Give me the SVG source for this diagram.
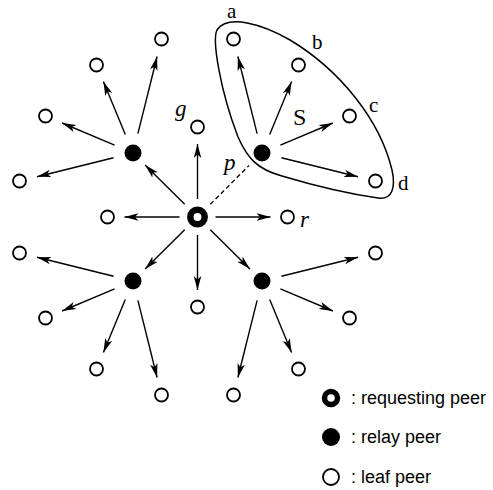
<svg xmlns="http://www.w3.org/2000/svg" width="493" height="490" viewBox="0 0 493 490">
<style>
.leaf{fill:#fff;stroke:#000;stroke-width:1.8}
.relay{fill:#000}
.req{fill:#fff;stroke:#000;stroke-width:6.5}
.ar{stroke:#000;stroke-width:1.4;fill:none;marker-end:url(#ah)}
.dash{stroke:#000;stroke-width:1.3;fill:none;stroke-dasharray:4.5 3}
.lbl{font-family:"Liberation Serif",serif;font-size:21px;fill:#000}
.it{font-style:italic;font-size:23px}
.leg{font-family:"Liberation Sans",Arial,sans-serif;font-size:18px;fill:#000}
</style>
<defs>
<marker id="ah" markerUnits="userSpaceOnUse" markerWidth="18" markerHeight="10" refX="14" refY="4" orient="auto" viewBox="0 0 18 10">
<path d="M14,4 L0,0.2 L3.5,4 L0,7.8 Z" fill="#000"/>
</marker>
</defs>
<g id="connectors">
<line class="ar" x1="184.7" y1="204.3" x2="145.1" y2="165.0"/>
<line class="ar" x1="184.7" y1="229.7" x2="145.1" y2="269.0"/>
<line class="ar" x1="210.3" y1="229.7" x2="249.9" y2="269.0"/>
<line class="dash" x1="210.3" y1="204.3" x2="249" y2="165.5"/>
<line class="ar" x1="197.5" y1="199" x2="197.5" y2="144"/>
<line class="ar" x1="197.5" y1="235" x2="197.5" y2="290"/>
<line class="ar" x1="179.5" y1="217" x2="124.5" y2="217"/>
<line class="ar" x1="215.5" y1="217" x2="270.5" y2="217"/>
<line class="ar" x1="137.9" y1="133.6" x2="157.1" y2="56.5"/>
<line class="ar" x1="125.3" y1="134.5" x2="103.4" y2="81.6"/>
<line class="ar" x1="114.6" y1="145.2" x2="62.1" y2="123.0"/>
<line class="ar" x1="113.6" y1="157.8" x2="37.0" y2="176.7"/>
<line class="ar" x1="257.1" y1="133.6" x2="237.9" y2="56.5"/>
<line class="ar" x1="269.7" y1="134.5" x2="291.6" y2="81.6"/>
<line class="ar" x1="280.4" y1="145.2" x2="332.9" y2="123.0"/>
<line class="ar" x1="281.4" y1="157.8" x2="358.0" y2="176.7"/>
<line class="ar" x1="137.9" y1="300.4" x2="157.1" y2="377.5"/>
<line class="ar" x1="125.3" y1="299.5" x2="103.4" y2="352.4"/>
<line class="ar" x1="114.6" y1="288.8" x2="62.1" y2="311.0"/>
<line class="ar" x1="113.6" y1="276.2" x2="37.0" y2="257.3"/>
<line class="ar" x1="257.1" y1="300.4" x2="237.9" y2="377.5"/>
<line class="ar" x1="269.7" y1="299.5" x2="291.6" y2="352.4"/>
<line class="ar" x1="280.4" y1="288.8" x2="332.9" y2="311.0"/>
<line class="ar" x1="281.4" y1="276.2" x2="358.0" y2="257.3"/>
</g>
<g id="group-S">
<path d="M217,30 C212,40 220,90 238,137 C247,157 256,169 282,176 C312,185 350,194 378,198 C392,200 396,188 392,170 C380,120 340,70 290,40 C262,24 228,14 217,30 Z" fill="none" stroke="#000" stroke-width="1.5"/>
<text class="lbl" x="293" y="125" style="font-size:24px">S</text>
</g>
<g id="requesting"><circle class="req" cx="197.5" cy="217" r="7.2"/><text class="lbl it" x="224" y="170">p</text></g>
<g id="relay-ul"><circle class="relay" cx="133" cy="153" r="8.5"/></g>
<g id="relay-ur"><circle class="relay" cx="262" cy="153" r="8.5"/></g>
<g id="relay-ll"><circle class="relay" cx="133" cy="281" r="8.5"/></g>
<g id="relay-lr"><circle class="relay" cx="262" cy="281" r="8.5"/></g>
<g id="leaf-g"><circle class="leaf" cx="197.5" cy="127" r="6.5"/><text class="lbl it" x="175" y="116">g</text></g>
<g id="leaf-left"><circle class="leaf" cx="107.5" cy="217" r="6.5"/></g>
<g id="leaf-r"><circle class="leaf" cx="287.5" cy="217" r="6.5"/><text class="lbl it" x="300" y="227">r</text></g>
<g id="leaf-bottom"><circle class="leaf" cx="197.5" cy="307" r="6.5"/></g>
<g id="leaf-ul1"><circle class="leaf" cx="161.5" cy="39" r="6.5"/></g>
<g id="leaf-ul2"><circle class="leaf" cx="96.5" cy="65" r="6.5"/></g>
<g id="leaf-ul3"><circle class="leaf" cx="45.5" cy="116" r="6.5"/></g>
<g id="leaf-ul4"><circle class="leaf" cx="19.5" cy="181" r="6.5"/></g>
<g id="leaf-a"><circle class="leaf" cx="233.5" cy="39" r="6.5"/><text class="lbl" x="227" y="18">a</text></g>
<g id="leaf-b"><circle class="leaf" cx="298.5" cy="65" r="6.5"/><text class="lbl" x="312" y="49">b</text></g>
<g id="leaf-c"><circle class="leaf" cx="349.5" cy="116" r="6.5"/><text class="lbl" x="369" y="112">c</text></g>
<g id="leaf-d"><circle class="leaf" cx="375.5" cy="181" r="6.5"/><text class="lbl" x="398" y="190">d</text></g>
<g id="leaf-ll1"><circle class="leaf" cx="19.5" cy="253" r="6.5"/></g>
<g id="leaf-ll2"><circle class="leaf" cx="45.5" cy="318" r="6.5"/></g>
<g id="leaf-ll3"><circle class="leaf" cx="96.5" cy="369" r="6.5"/></g>
<g id="leaf-ll4"><circle class="leaf" cx="161.5" cy="395" r="6.5"/></g>
<g id="leaf-lr1"><circle class="leaf" cx="375.5" cy="253" r="6.5"/></g>
<g id="leaf-lr2"><circle class="leaf" cx="349.5" cy="318" r="6.5"/></g>
<g id="leaf-lr3"><circle class="leaf" cx="298.5" cy="369" r="6.5"/></g>
<g id="leaf-lr4"><circle class="leaf" cx="233.5" cy="395" r="6.5"/></g>
<g id="legend">
<circle cx="331" cy="398" r="6.5" fill="#fff" stroke="#000" stroke-width="5.5"/>
<text class="leg" x="351" y="404">: requesting peer</text>
<circle cx="331" cy="437" r="9" fill="#000"/>
<text class="leg" x="351" y="443">: relay peer</text>
<circle cx="331" cy="477" r="8" fill="#fff" stroke="#000" stroke-width="1.8"/>
<text class="leg" x="351" y="483">: leaf peer</text>
</g>
</svg>
